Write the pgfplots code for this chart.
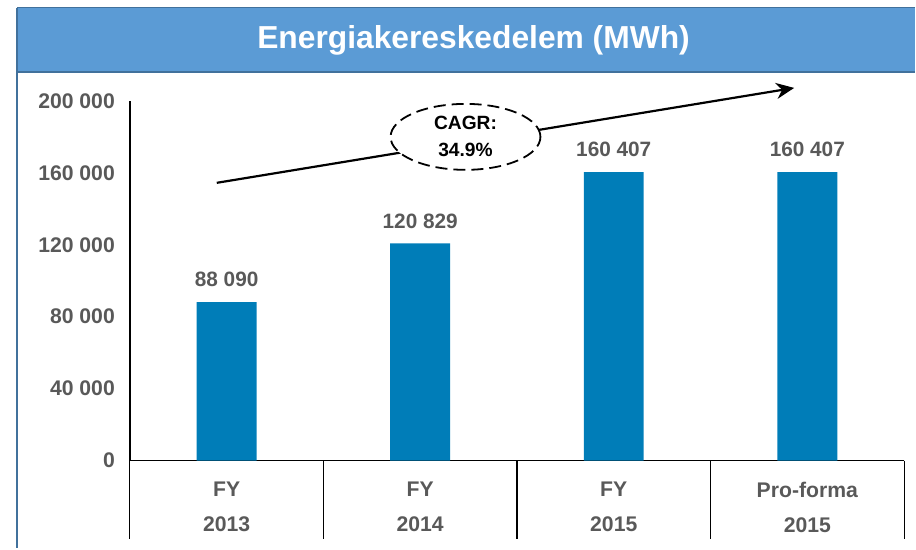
\documentclass[border=0pt]{standalone}
\usepackage{pgfplots}
\pgfplotsset{compat=1.18}
\usepackage{fontspec}
\setmainfont{Liberation Sans}
\usetikzlibrary{arrows.meta,shapes.geometric}
\definecolor{barblue}{HTML}{007DB8}
\definecolor{bandblue}{HTML}{5B9BD5}
\definecolor{bandedge}{HTML}{41719C}
\definecolor{txtgray}{HTML}{595959}

\begin{document}
\begin{tikzpicture}
% canvas: 1px of the reference = 0.5pt
\path (0,0) rectangle (458pt,-274.5pt);
\fill[bandblue] (8.5pt,-4pt) rectangle (458pt,-36pt);
\draw[bandedge, line width=0.5pt] (8.5pt,-4pt) -- (458pt,-4pt);
\draw[bandedge, line width=0.9pt] (8.5pt,-36pt) -- (458pt,-36pt);
\draw[bandedge, line width=0.6pt] (8.5pt,-4pt) -- (8.5pt,-274.5pt);
\node[white, font=\fontsize{15.9}{18}\selectfont\bfseries] at (237pt,-20pt) {Energiakereskedelem (MWh)};

\begin{axis}[
    at={(65pt,-230.5pt)}, anchor=south west,
    scale only axis, width=387.5pt, height=180pt,
    ymin=0, ymax=200000, xmin=-0.5, xmax=3.5,
    axis lines*=left,
    axis line style={black, line width=0.8pt},
    ybar, bar width=30pt,
    ytick={0,40000,80000,120000,160000,200000},
    yticklabels={0,40 000,80 000,120 000,160 000,200 000},
    scaled y ticks=false,
    ytick style={draw=none},
    xtick={0,1,2,3},
    xtick style={draw=none},
    xticklabels={{FY\\[5pt]2013},{FY\\[5pt]2014},{FY\\[5pt]2015},{Pro-forma\\[5pt]2015}},
    xticklabel style={align=center, font=\fontsize{10.6}{12.6}\selectfont\bfseries, text=txtgray, yshift=-3pt},
    yticklabel style={font=\fontsize{10.6}{12.6}\selectfont\bfseries, text=txtgray, xshift=-4pt},
    point meta=explicit symbolic,
    nodes near coords,
    nodes near coords style={font=\fontsize{10.4}{12}\selectfont\bfseries, text=txtgray, anchor=south, yshift=4pt},
    clip=false,
]
\addplot[fill=barblue, draw=none] coordinates {(0,88090) [88 090] (1,120829) [120 829] (2,160407) [160 407] (3,160407) [160 407]};

% category separators
\draw[black, line width=0.6pt] (axis cs:-0.5,0) -- ++(0pt,-39.5pt);
\draw[black, line width=0.6pt] (axis cs:0.5,0) -- ++(0pt,-39.5pt);
\draw[black, line width=0.6pt] (axis cs:1.5,0) -- ++(0pt,-39.5pt);
\draw[black, line width=0.6pt] (axis cs:2.5,0) -- ++(0pt,-39.5pt);
\draw[black, line width=0.6pt] (axis cs:3.5,0) -- ++(0pt,-39.5pt);

% CAGR arrow and label
\draw[black, line width=1.1pt, -{Stealth[length=9pt,width=8pt]}] (axis cs:-0.051,154444) -- (axis cs:2.932,207222);
\node[draw=black, fill=white, ellipse, dash pattern=on 6pt off 3pt, line width=0.9pt,
      minimum width=75pt, minimum height=33pt, inner sep=0pt,
      align=center, font=\fontsize{9.6}{13.5}\selectfont\bfseries]
  at (axis cs:1.234,180000) {CAGR:\\34.9\%};
\end{axis}
\end{tikzpicture}
\end{document}
